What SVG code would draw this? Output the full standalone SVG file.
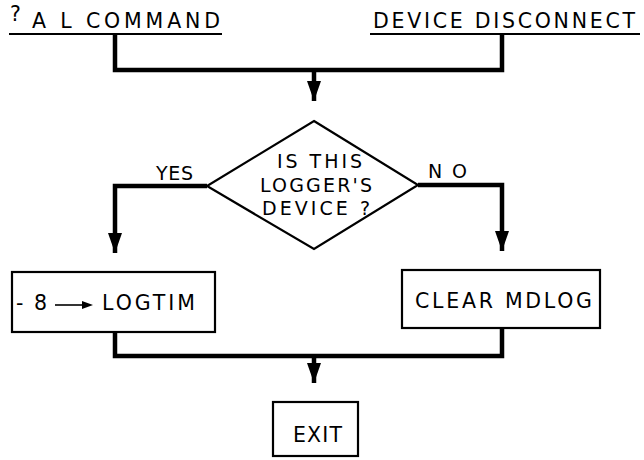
<svg xmlns="http://www.w3.org/2000/svg" width="644" height="460" viewBox="0 0 644 460">
<style>
.t{font-family:"DejaVu Sans","Liberation Sans",Arial,sans-serif;font-size:20.5px;fill:#000}
.s{font-size:19px}
.c{fill:none;stroke:#000;stroke-width:4.5;stroke-linejoin:miter}
.b{fill:#fff;stroke:#000;stroke-width:2.2}
.u{stroke:#000;stroke-width:1.8}
</style>
<defs>
<marker id="ah" markerUnits="userSpaceOnUse" markerWidth="16" markerHeight="20" viewBox="0 0 16 20" refX="8" refY="20" orient="0">
<path d="M1,0 L15,0 L8,20 Z" fill="#000"/>
</marker>
</defs>
<g id="connectors">
<path class="c" d="M115,34 V70 H502 V34"/>
<path class="c" d="M314,70 V101" marker-end="url(#ah)"/>
<path class="c" d="M207,186 H115 V253" marker-end="url(#ah)"/>
<path class="c" d="M418,185 H502 V251" marker-end="url(#ah)"/>
<path class="c" d="M115,332 V356 H502 V328"/>
<path class="c" d="M314,356 V383" marker-end="url(#ah)"/>
</g>
<g id="src1">
<text class="t" x="10" y="21" font-size="11">?</text>
<text class="t" x="32" y="28" textLength="188" lengthAdjust="spacing">A L COMMAND</text>
<line class="u" x1="9" y1="34" x2="222" y2="34"/>
</g>
<g id="src2">
<text class="t" x="373" y="28" textLength="262" lengthAdjust="spacing">DEVICE DISCONNECT</text>
<line class="u" x1="370" y1="34" x2="640" y2="34"/>
</g>
<g id="decision">
<polygon class="b" points="314,121 418,185 314,249 207,186"/>
<text class="t s" x="277" y="168" textLength="85" lengthAdjust="spacing">IS THIS</text>
<text class="t s" x="260" y="192" textLength="112" lengthAdjust="spacing">LOGGER'S</text>
<text class="t s" x="262" y="215" textLength="108" lengthAdjust="spacing">DEVICE ?</text>
<text class="t s" x="156" y="180" textLength="37" lengthAdjust="spacing">YES</text>
<text class="t s" x="428" y="178" textLength="39" lengthAdjust="spacing">NO</text>
</g>
<g id="logtim">
<rect class="b" x="12" y="272" width="203" height="60"/>
<text class="t" x="16" y="310">-</text>
<text class="t" x="34" y="310">8</text>
<line x1="55" y1="305" x2="84" y2="305" stroke="#000" stroke-width="1.6"/>
<path d="M82,301 L93,305 L82,309 Z" fill="#000"/>
<text class="t" x="102" y="310" textLength="93" lengthAdjust="spacing">LOGTIM</text>
</g>
<g id="mdlog">
<rect class="b" x="402" y="270" width="198" height="58"/>
<text class="t" x="415" y="308" textLength="177" lengthAdjust="spacing">CLEAR MDLOG</text>
</g>
<g id="exit">
<rect class="b" x="273" y="402" width="85" height="54"/>
<text class="t" x="293" y="442" font-size="23" textLength="49" lengthAdjust="spacing">EXIT</text>
</g>
</svg>
